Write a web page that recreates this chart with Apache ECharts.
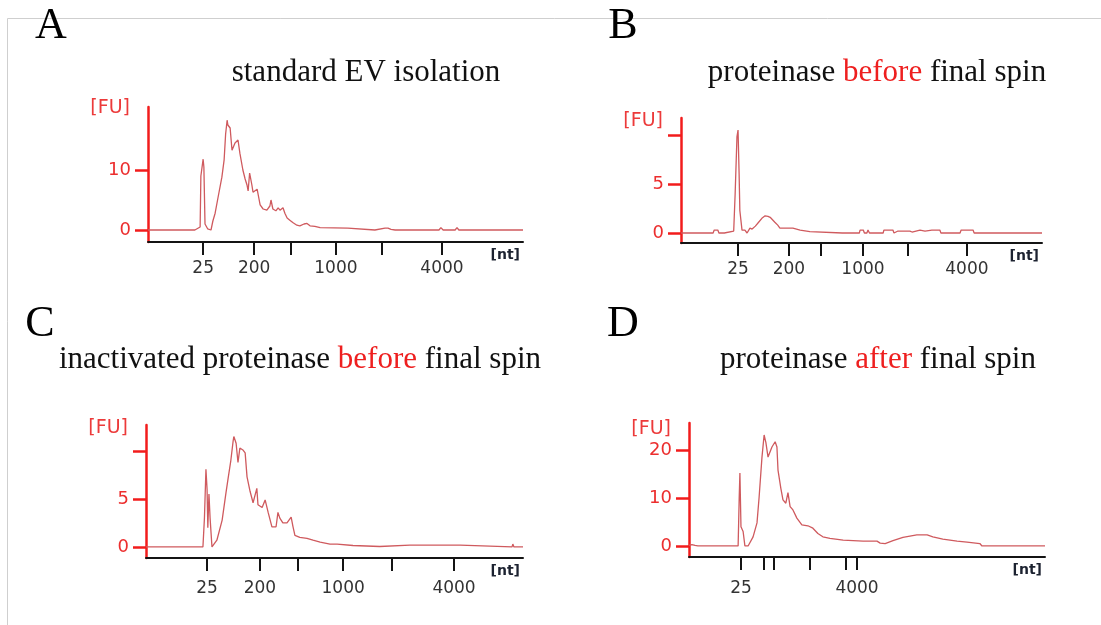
<!DOCTYPE html>
<html>
<head>
<meta charset="utf-8">
<script src="https://cdn.jsdelivr.net/npm/echarts@6/dist/echarts.min.js"></script>
<style>
html,body{margin:0;padding:0;background:#fff;}
#chart{width:1101px;height:625px;}
</style>
</head>
<body>
<div id="chart"></div>
<script>
// ---- data (x = relative migration position 0..100 per panel, y = fluorescence [FU]) ----
const ladderNt = ['25','200','500','1000','2000','4000'];
const tickPosA = [14.7,28.3,38.1,50.1,62.4,78.4];
const tickPosB = [15.8,29.9,38.8,50.4,62.9,79.2];
const tickPosC = [16.2,30.2,40.3,52.3,65.3,81.7];
const tickPosD = [14.6,21.1,23.9,34.0,44.1,47.2];
const labeledIdxABC = [0,1,3,5];
const labeledIdxD = [0,5];

const yTicksA = [0,10];  const yLabelsA = [0,10];
const yTicksB = [0,5,10]; const yLabelsB = [0,5];
const yTicksC = [0,5,10]; const yLabelsC = [0,5];
const yTicksD = [0,10,20]; const yLabelsD = [0,10,20];

const panelLetters = ['A','B','C','D'];
const panelTitles = [
  ['standard EV isolation','',''],
  ['proteinase ','before',' final spin'],
  ['inactivated proteinase ','before',' final spin'],
  ['proteinase ','after',' final spin']
];

const fuA = [[0,0],[12.5,0],[13.9,0.5],[14.1,9],[14.7,11.8],[14.9,10.5],[15.2,1],[15.5,1.3],[15.9,0.2],[16.8,0],[17.3,1.5],[17.9,2.8],[18.7,5.5],[19.7,8.8],[20.3,11.7],[20.7,16],[21.1,18.3],[21.3,17.5],[21.9,17],[22.4,13.3],[22.9,13.5],[23.2,14.5],[24,15],[24.5,12.8],[25.3,10],[25.9,8.5],[26.4,7.5],[26.7,6.5],[27.1,9.5],[27.3,9.7],[27.7,7.5],[28,6.3],[28.5,6.5],[29.1,6.8],[29.5,5.5],[29.9,4.2],[30.7,3.5],[31.7,3.3],[32.5,4],[32.8,5],[33.3,3.5],[34.1,3.2],[34.7,3.7],[35.2,3.3],[36,3.7],[36.5,2.8],[37.1,2],[37.9,1.6],[38.7,1.2],[39.7,0.8],[40.5,0.7],[41.6,1],[42.4,1.1],[43.2,0.7],[44.5,0.6],[45.9,0.4],[53.3,0.3],[53.6,0],[60.5,0],[60.8,0.3],[63.2,0.3],[63.5,0.1],[64,0.3],[64.8,0.1],[65.3,0.3],[65.9,0],[77.6,0],[78.1,0.4],[78.7,0],[81.9,0],[82.4,0.4],[82.9,0],[100,0]];

const fuB = [[0,0],[8.9,0],[9.2,0.3],[10.2,0.3],[10.5,0],[12,0],[12.2,0.2],[12.5,0],[14.6,0.2],[15,4],[15.5,9.8],[15.8,10.5],[16.1,6],[16.3,2.3],[16.9,0.3],[17.7,0.3],[18.3,0],[19.1,0.5],[19.7,0.4],[20.6,0.7],[21.5,1.1],[22.4,1.5],[23.3,1.75],[24.1,1.7],[24.7,1.6],[26,1.1],[26.8,0.8],[27.4,0.5],[31,0.5],[31.5,0.3],[33,0.3],[33.5,0.15],[35.7,0.15],[36,0],[44.7,0],[44.9,0.1],[45.2,0],[49.4,0],[49.6,0.3],[50.5,0.3],[50.8,0],[51.5,0],[51.8,0.3],[52.2,0],[56,0],[56.2,0.3],[58.7,0.3],[59,0],[60.1,0.2],[63.4,0.2],[64,0.1],[66.2,0.3],[67.6,0.2],[68,0],[69.5,0.3],[71.7,0.3],[72,0],[77.3,0],[77.6,0.3],[80.9,0.3],[81.2,0],[100,0]];

const fuC = [[0,0],[15.1,0],[15.5,3],[15.9,8.1],[16.2,6],[16.4,2],[16.7,5.5],[17.0,3],[17.5,0],[18,0],[18.8,0.7],[20.2,2.8],[21.2,5.6],[21.8,7.2],[22.5,9],[23.1,11],[23.3,11.5],[23.9,10.8],[24.4,8.8],[24.7,8.8],[24.9,10.3],[25.7,10.1],[26.3,9.8],[26.8,7.3],[27.6,5.8],[28.4,4.6],[28.9,4.7],[29.4,6.1],[29.7,4.4],[30.8,4.1],[31.6,4.9],[32.4,3.6],[33.4,2.1],[34.5,2.1],[35,3.6],[35.5,3],[36.3,2.5],[37.4,2.5],[38.5,3.1],[39,2.1],[39.5,1.2],[40.8,1],[42.7,0.9],[44.3,0.7],[46.2,0.5],[48.8,0.3],[50.7,0.3],[51,0.15],[54.9,0.15],[55.2,0.05],[62,0.05],[62.1,0.2],[70,0.2],[70.2,0.1],[71,0.2],[83.3,0.2],[83.5,0],[97.1,0],[97.3,0.3],[97.6,0],[100,0]];

const fuD = [[0,0.1],[0.8,0.3],[1.7,0.1],[2.5,0],[13.8,0],[14.1,10],[14.3,15.2],[14.6,4],[15.2,3],[15.7,0],[16.6,0],[18,1.9],[19.1,4.8],[19.7,10.2],[20.5,18.5],[21.1,23.1],[21.6,21.5],[22.2,18.5],[23.3,20.6],[24.2,21.7],[24.7,20.6],[25,15.8],[25.8,12],[26.4,9.6],[27.2,8.9],[27.8,11.1],[28.4,8.2],[29.2,7.5],[30.3,5.8],[31.7,4.4],[33.4,4.2],[34.8,3.7],[36.2,2.6],[37.6,1.9],[39.6,1.6],[43.3,1.2],[48.9,1.0],[52.8,1.0],[53.7,0.6],[54.2,0.3],[55.1,0.5],[55.6,0.8],[57.3,1.1],[60.1,1.8],[64,2.3],[66.9,2.3],[68.5,1.9],[71.3,1.4],[75.3,1.0],[78.1,0.8],[81.7,0.5],[82.3,0],[100,0]];

// ---- layout / style ----
const panels = [
  {data:fuA, ticks:tickPosA, lab:labeledIdxABC, yT:yTicksA, yL:yLabelsA, ymin:-2, ymax:20.5,
   grid:{left:148, top:107, width:375, height:135}, xm:18, nameGap:-1,
   letter:[51,26], title:[366,73]},
  {data:fuB, ticks:tickPosB, lab:labeledIdxABC, yT:yTicksB, yL:yLabelsB, ymin:-1.02, ymax:11.73,
   grid:{left:681, top:118, width:361, height:125}, xm:18, nameGap:-3,
   letter:[623,26], title:[877,73]},
  {data:fuC, ticks:tickPosC, lab:labeledIdxABC, yT:yTicksC, yL:yLabelsC, ymin:-1.15, ymax:12.7,
   grid:{left:146, top:425, width:377, height:133}, xm:22, nameGap:-3,
   letter:[40,324], title:[300,360]},
  {data:fuD, ticks:tickPosD, lab:labeledIdxD, yT:yTicksD, yL:yLabelsD, ymin:-2.3, ymax:25.6,
   grid:{left:689, top:423, width:356, height:134}, xm:23, nameGap:-6,
   letter:[623,324], title:[878,360]}
];

const sansFont = '"DejaVu Sans","Liberation Sans",sans-serif';
const serifFont = '"Liberation Serif","Times New Roman",serif';
const axisRed = '#f21c1c';
const lineRed = '#cf5a5e';

const grids = [], xAxes = [], yAxes = [], series = [], graphics = [];

graphics.push({type:'polyline', shape:{points:[[7.5,625],[7.5,18.5],[1101,18.5]]},
  style:{stroke:'#cfcfcf', lineWidth:1, fill:null}, silent:true});

panels.forEach((p, i) => {
  grids.push(Object.assign({containLabel:false}, p.grid));
  const labelVals = p.lab.map(k => p.ticks[k]);
  xAxes.push({
    gridIndex:i, type:'value', min:0, max:100,
    axisLine:{show:true, onZero:false, lineStyle:{color:'#141414', width:2}},
    axisTick:{show:true, customValues:p.ticks, length:13, lineStyle:{color:'#141414', width:2}},
    axisLabel:{show:true, customValues:labelVals, margin:p.xm, color:'#333', fontSize:17, fontFamily:sansFont,
      formatter:(v) => { const k = p.ticks.indexOf(v); return k >= 0 ? ladderNt[k] : ''; }},
    splitLine:{show:false},
    name:'[nt]', nameLocation:'end', nameGap:-3,
    nameTextStyle:{align:'right', verticalAlign:'top', padding:[6,0,0,0], color:'#1c2230',
      fontSize:14, fontWeight:'bold', fontFamily:sansFont}
  });
  yAxes.push({
    gridIndex:i, type:'value', min:p.ymin, max:p.ymax,
    axisLine:{show:true, onZero:false, lineStyle:{color:axisRed, width:2.5}},
    axisTick:{show:true, customValues:p.yT, length:13, lineStyle:{color:axisRed, width:2.5}},
    axisLabel:{show:true, customValues:p.yL, margin:17, color:'#ec2e2e', fontSize:18, fontFamily:sansFont},
    splitLine:{show:false},
    name:'[FU]', nameLocation:'end', nameGap:p.nameGap,
    nameTextStyle:{align:'right', verticalAlign:'middle', padding:[0,18,0,0], color:'#ec3a3a',
      fontSize:19, fontFamily:sansFont}
  });
  series.push({
    type:'line', xAxisIndex:i, yAxisIndex:i, data:p.data, showSymbol:false, symbol:'none',
    lineStyle:{color:lineRed, width:1.3}, animation:false, silent:true
  });
  graphics.push({type:'text', x:p.letter[0], y:p.letter[1], silent:true,
    style:{text:panelLetters[i], font:'44px ' + serifFont, fill:'#000', align:'center', verticalAlign:'middle'}});
  const t = panelTitles[i];
  graphics.push({type:'text', x:p.title[0], y:p.title[1], silent:true,
    style:{text:'{k|' + t[0] + '}' + (t[1] ? '{r|' + t[1] + '}{k|' + t[2] + '}' : ''),
      font:'31px ' + serifFont, align:'center', verticalAlign:'middle',
      rich:{k:{fill:'#111', fontSize:31, fontFamily:serifFont},
            r:{fill:'#ee1f1f', fontSize:31, fontFamily:serifFont}}}});
});

const chart = echarts.init(document.getElementById('chart'), null, {renderer:'canvas'});
chart.setOption({
  backgroundColor:'#fff',
  animation:false,
  grid:grids, xAxis:xAxes, yAxis:yAxes, series:series,
  graphic:graphics
});
</script>
</body>
</html>
